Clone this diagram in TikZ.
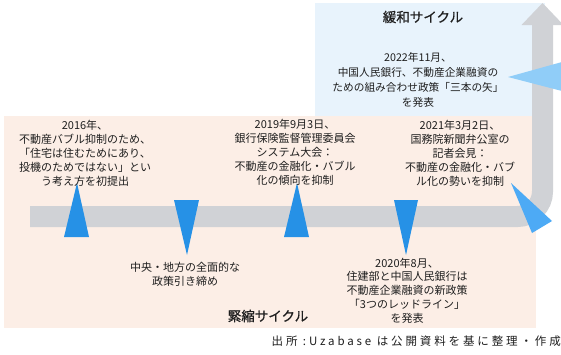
\documentclass[tikz,border=0pt]{standalone}
\usepackage{fontspec}
\setmainfont{Noto Sans CJK JP}
\newfontfamily\srcfont[LetterSpace=25]{Noto Sans CJK JP}
\newfontfamily\ttlfont[FakeBold=0.7]{Noto Sans CJK JP}
\definecolor{pchbg}{RGB}{252,238,230}
\definecolor{blubg}{RGB}{232,243,252}
\definecolor{trk}{RGB}{208,210,214}
\definecolor{triblue}{RGB}{38,145,230}
\definecolor{tritwo}{RGB}{77,170,245}
\definecolor{trithree}{RGB}{144,205,248}
\definecolor{txtc}{RGB}{30,30,30}
\begin{document}
\begin{tikzpicture}[x=1pt,y=-1pt,
  txt/.style={align=center,inner sep=0pt,text=txtc,font=\fontsize{11}{14}\selectfont},
  ttl/.style={inner sep=0pt,text=txtc,font=\ttlfont\fontsize{13.5}{16}\selectfont},
  tri/.style={fill=triblue}]
\useasboundingbox (0,0) rectangle (561,354);
\fill[white] (0,0) rectangle (561,354);
% backgrounds
\fill[blubg] (315,3) rectangle (545,116);
\fill[pchbg] (4,116) rectangle (536,328);
% track
\draw[trk, line width=21pt, rounded corners=25pt] (30,216.5) -- (542.5,216.5) -- (542.5,24);
\fill[trk] (521.5,25) -- (542.5,3) -- (563.5,25) -- cycle;
% markers
\fill[tri] (64,237) -- (77,183) -- (89,237) -- cycle;
\fill[tri] (174,200) -- (199,200) -- (187,255) -- cycle;
\fill[tri] (284,237) -- (297,183) -- (309,237) -- cycle;
\fill[tri] (394,200) -- (418,200) -- (406,255) -- cycle;
\fill[tritwo] (511,183) -- (532,233) -- (552,221) -- cycle;
\fill[trithree] (508,77) -- (562,62) -- (562,91) -- cycle;
% titles
\node[ttl] (kanwa) at (423,17) {緩和サイクル};
\node[ttl] (kinshuku) at (268,316) {緊縮サイクル};
% texts
\node[txt] (t2016) at (85,153) {2016年、\\不動産バブル抑制のため、\\「住宅は住むためにあり、\\投機のためではない」とい\\う考え方を初提出};
\node[txt] (t2019) at (295,152) {2019年9月3日、\\銀行保険監督管理委員会\\システム大会：\\不動産の金融化・バブル\\化の傾向を抑制};
\node[txt] (t2021) at (460,153.5) {2021年3月2日、\\国務院新聞弁公室の\\記者会見：\\不動産の金融化・バブ\\ル化の勢いを抑制};
\node[txt] (tchuo) at (185,274.5) {中央・地方の全面的な\\政策引き締め};
\node[txt,font=\fontsize{11}{13.75}\selectfont] (t2020) at (407,290.5) {2020年8月、\\住建部と中国人民銀行は\\不動産企業融資の新政策\\「3つのレッドライン」\\を発表};
\node[txt,font=\fontsize{10.7}{15}\selectfont] (t2022) at (418,79.5) {2022年11月、\\中国人民銀行、不動産企業融資の\\ための組み合わせ政策「三本の矢」\\を発表};
% source
\node[anchor=east,inner sep=0pt,text=txtc,font=\srcfont\fontsize{11.5}{13}\selectfont] (src) at (561,341) {出所 :Uzabase は公開資料を基に整理・作成};
\end{tikzpicture}
\end{document}
